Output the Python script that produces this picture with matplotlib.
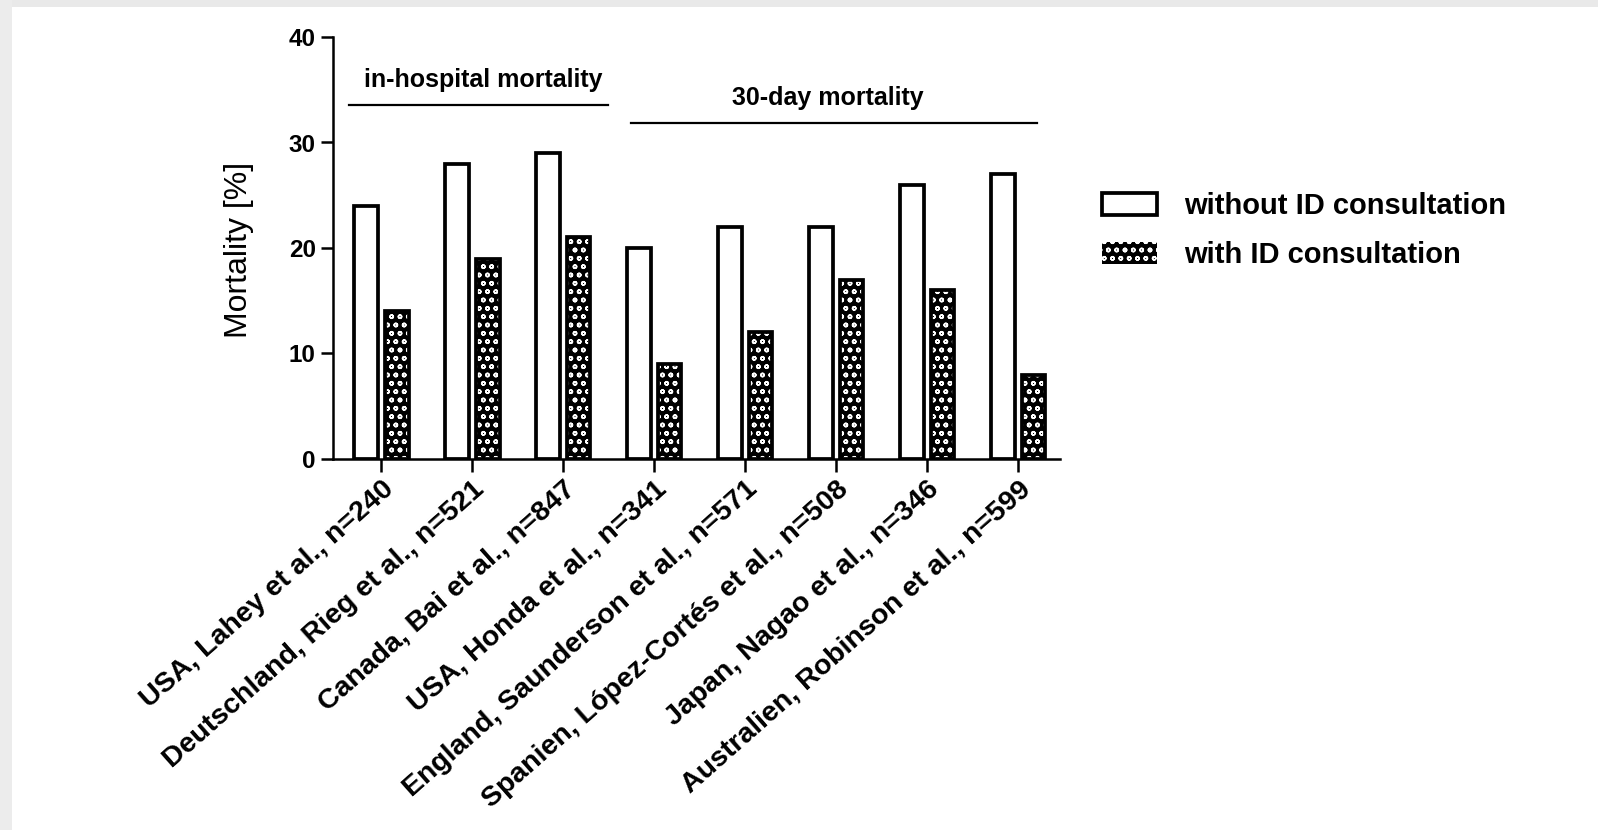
import matplotlib
matplotlib.use("Agg")
import matplotlib.pyplot as plt
from matplotlib.patches import Patch, Rectangle
from matplotlib.transforms import ScaledTranslation
import numpy as np

plt.rcParams["font.family"] = ["Liberation Sans", "DejaVu Sans"]
plt.rcParams["hatch.linewidth"] = 1.1

studies = [
    "USA, Lahey et al., n=240",
    "Deutschland, Rieg et al., n=521",
    "Canada, Bai et al., n=847",
    "USA, Honda et al., n=341",
    "England, Saunderson et al., n=571",
    "Spanien, López-Cortés et al., n=508",
    "Japan, Nagao et al., n=346",
    "Australien, Robinson et al., n=599",
]
without_id = [24, 28, 29, 20, 22, 22, 26, 27]
with_id = [14, 19, 21, 9, 12, 17, 16, 8]
series_labels = ["without ID consultation", "with ID consultation"]
group_labels = ["in-hospital mortality", "30-day mortality"]
y_ticks = [0, 10, 20, 30, 40]

W, H = 1598, 830
fig = plt.figure(figsize=(W / 100, H / 100), dpi=100)
fig.patch.set_facecolor("white")

# light grey frame along the top and left edges
fig.patches.append(Rectangle((0, 1 - 7 / H), 1, 7 / H, transform=fig.transFigure,
                             facecolor="#e9e9e9", edgecolor="none", zorder=0))
fig.patches.append(Rectangle((0, 0), 12 / W, 1, transform=fig.transFigure,
                             facecolor="#ececec", edgecolor="none", zorder=0))

ax = fig.add_axes([333 / W, 1 - 459 / H, (1060 - 333) / W, (459 - 37) / H])
ax.set_facecolor("none")

x = np.arange(len(studies))
bw = 0.26
off = 0.17
edge_lw = 2.7

ax.bar(x - off, without_id, bw, facecolor="white", edgecolor="black", linewidth=edge_lw, zorder=2)
ax.bar(x + off, with_id, bw, facecolor="black", edgecolor="white", hatch="oo", linewidth=0, zorder=2)
ax.bar(x + off, with_id, bw, fill=False, edgecolor="black", linewidth=edge_lw, zorder=3)

ax.set_xlim(-0.53, 7.46)
ax.set_ylim(0, 40)
ax.set_yticks(y_ticks)
ax.set_yticklabels([str(v) for v in y_ticks], fontsize=17.5, fontweight="bold")
ax.set_xticks(x)
ax.set_xticklabels(studies, rotation=41.5, ha="right", rotation_mode="anchor",
                   fontsize=20.5, fontweight="bold")
shift = ScaledTranslation(10 / 100, -2 / 100, fig.dpi_scale_trans)
for lbl in ax.get_xticklabels():
    lbl.set_transform(lbl.get_transform() + shift)

ax.set_ylabel("Mortality [%]", fontsize=23)
ax.yaxis.set_label_coords(-0.108, 0.495)

for side in ("top", "right"):
    ax.spines[side].set_visible(False)
for side in ("left", "bottom"):
    ax.spines[side].set_linewidth(1.8)
ax.tick_params(axis="both", direction="out", length=9, width=1.8, pad=3.5)

# study-group brackets
ax.plot([-0.35, 2.49], [33.55, 33.55], color="black", lw=1.6, clip_on=False)
ax.text(1.12, 35.9, group_labels[0], ha="center", va="center", fontsize=18, fontweight="bold")
ax.plot([2.74, 7.21], [31.85, 31.85], color="black", lw=1.6, clip_on=False)
ax.text(4.91, 34.2, group_labels[1], ha="center", va="center", fontsize=18, fontweight="bold")

handles = [
    Patch(facecolor="white", edgecolor="black", linewidth=edge_lw),
    Patch(facecolor="black", edgecolor="white", hatch="oo", linewidth=0),
]
leg = fig.legend(handles, series_labels, loc="upper left",
                 bbox_to_anchor=(1102 / W, 1 - 192 / H), frameon=False,
                 borderpad=0, borderaxespad=0,
                 prop={"size": 21, "weight": "bold"}, handlelength=1.9,
                 handleheight=0.75, handletextpad=0.92, labelspacing=0.72)

fig.savefig("out.png", dpi=100, facecolor=fig.get_facecolor())
